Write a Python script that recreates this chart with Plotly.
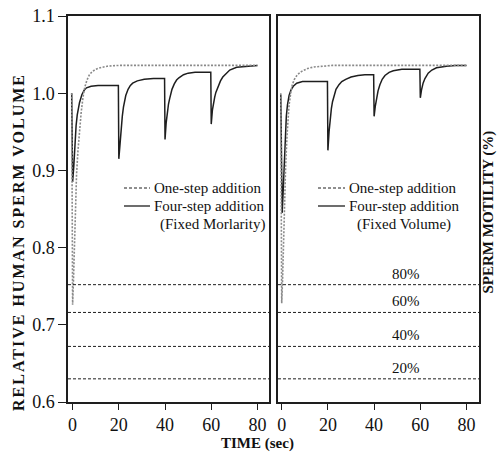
import plotly.graph_objects as go

# ---- data -------------------------------------------------------------
# One-step vs four-step addition, relative sperm volume over time (s)
t_one_mol = [-0.4, 0.0, 0.4, 0.8, 1.2, 1.7, 2.3, 3.0, 3.7, 4.5, 5.3, 6.2, 7.3, 8.5, 10, 12, 15, 20, 80]
v_one_mol = [1.000, 0.726, 0.760, 0.810, 0.855, 0.895, 0.925, 0.952, 0.975, 0.995, 1.008, 1.017,
             1.024, 1.028, 1.031, 1.033, 1.035, 1.036, 1.036]

t_four_mol = [-0.4, 0.0, 0.5, 1.0, 1.5, 2.0, 3.0, 4.0, 5.0, 6.0, 8.0, 11.0, 19.8,
              20.0, 20.5, 21.0, 21.5, 22.0, 22.5, 23.0, 24.0, 25.0, 26.0, 28.0, 31.0, 35.0, 39.8,
              40.0, 40.5, 41.0, 41.5, 42.0, 42.5, 43.0, 44.0, 45.0, 46.0, 48.0, 50.0, 53.0, 59.8,
              60.0, 60.5, 61.0, 61.5, 62.0, 63.0, 64.0, 65.0, 66.5, 68.0, 71.0, 75.0, 80.0]
v_four_mol = [1.000, 0.885, 0.905, 0.935, 0.958, 0.972, 0.988, 0.998, 1.004, 1.007, 1.009, 1.010, 1.010,
              0.915, 0.938, 0.955, 0.970, 0.982, 0.991, 0.997, 1.005, 1.010, 1.013, 1.016, 1.018, 1.019, 1.019,
              0.940, 0.962, 0.976, 0.986, 0.993, 0.999, 1.005, 1.012, 1.017, 1.020, 1.024, 1.026, 1.027, 1.027,
              0.960, 0.978, 0.988, 0.995, 1.001, 1.010, 1.016, 1.021, 1.026, 1.030, 1.0335, 1.035, 1.036]

t_one_vol = [-0.4, 0.0, 0.4, 0.8, 1.2, 1.7, 2.3, 3.2, 4.0, 4.6, 5.5, 6.8, 8.5, 11.2, 14, 17, 22, 80]
v_one_vol = [1.000, 0.728, 0.760, 0.810, 0.860, 0.905, 0.945, 0.985, 1.002, 1.011, 1.018, 1.024,
             1.028, 1.032, 1.034, 1.035, 1.036, 1.036]

t_four_vol = [-0.4, 0.2, 0.6, 1.0, 1.5, 2.0, 2.5, 3.2, 4.0, 5.0, 6.5, 9.0, 19.8,
              20.0, 20.5, 21.0, 21.5, 22.0, 22.6, 23.5, 24.8, 26.0, 27.7, 30.0, 33.0, 36.0, 39.8,
              40.0, 40.5, 41.0, 41.7, 42.5, 43.5, 44.7, 46.5, 48.3, 52.0, 59.8,
              60.0, 60.5, 61.2, 62.0, 63.4, 65.0, 67.0, 71.3, 75.0, 80.0]
v_four_vol = [0.998, 0.845, 0.870, 0.905, 0.945, 0.970, 0.985, 0.997, 1.004, 1.009, 1.013, 1.015, 1.015,
              0.926, 0.950, 0.968, 0.980, 0.989, 0.997, 1.005, 1.011, 1.015, 1.018, 1.021, 1.023, 1.024, 1.024,
              0.970, 0.983, 0.993, 1.003, 1.011, 1.018, 1.023, 1.027, 1.029, 1.031, 1.031,
              0.994, 1.004, 1.013, 1.019, 1.026, 1.030, 1.033, 1.035, 1.036, 1.036]

# Volume thresholds for sperm motility levels
motility_labels = ["80%", "60%", "40%", "20%"]
motility_volume = [0.752, 0.716, 0.672, 0.630]

x_ticks = [0, 20, 40, 60, 80]
y_ticks = [0.6, 0.7, 0.8, 0.9, 1.0, 1.1]
y_ticktext = ["0.6", "0.7", "0.8", "0.9", "1.0", "1.1"]

legend_one = "One-step addition"
legend_four = "Four-step addition"
panel_notes = ["(Fixed Morlarity)", "(Fixed Volume)"]

# ---- figure -----------------------------------------------------------
W, H = 497, 456
SERIF = "Liberation Serif"
DARK = "#1e1e1e"
GRAY = "#8a8a8a"


def px(xp):
    return xp / W


def py(yp):
    return 1 - yp / H


fig = go.Figure()

panels = [("x", "y", t_one_mol, v_one_mol, t_four_mol, v_four_mol),
          ("x2", "y2", t_one_vol, v_one_vol, t_four_vol, v_four_vol)]
for xa, ya, t1, v1, t4, v4 in panels:
    fig.add_trace(go.Scatter(x=t4, y=v4, mode="lines", xaxis=xa, yaxis=ya,
                             line=dict(color=DARK, width=1.5),
                             showlegend=False, hoverinfo="skip"))
    fig.add_trace(go.Scatter(x=t1, y=v1, mode="lines", xaxis=xa, yaxis=ya,
                             line=dict(color=GRAY, width=1.6, dash="2px,1.5px"),
                             showlegend=False, hoverinfo="skip"))

# dashed motility threshold lines in both panels
for v in motility_volume:
    for xr, yr in (("x domain", "y"), ("x2 domain", "y2")):
        fig.add_shape(type="line", xref=xr, yref=yr, x0=0, x1=1, y0=v, y1=v,
                      line=dict(color=DARK, width=1, dash="3px,2px"), layer="above")

# motility labels in the right panel
for lab, v in zip(motility_labels, motility_volume):
    fig.add_annotation(x=54, y=v, xref="x2", yref="y2", text=lab, showarrow=False,
                       yanchor="bottom", yshift=1, font=dict(family=SERIF, size=15, color="#111"))

axis_common = dict(showline=True, linecolor=DARK, linewidth=1.5, mirror=True,
                   showgrid=False, zeroline=False, ticks="outside", tickcolor=DARK,
                   automargin=False,
                   tickfont=dict(family=SERIF, size=18, color="#111"))

fig.update_layout(
    width=W, height=H,
    margin=dict(l=0, r=0, t=0, b=0, pad=0, autoexpand=False),
    paper_bgcolor="white", plot_bgcolor="white",
    xaxis=dict(domain=[px(68), px(269)], range=[-2, 85], tickvals=x_ticks,
               ticklen=6, tickwidth=1, ticklabelstandoff=0, **axis_common),
    xaxis2=dict(domain=[px(278), px(479)], range=[-1.6, 85.4], tickvals=x_ticks,
                ticklen=6, tickwidth=1, ticklabelstandoff=0, anchor="y2", **axis_common),
    yaxis=dict(domain=[py(402), py(16)], range=[0.6, 1.1], tickvals=y_ticks,
               ticktext=y_ticktext, ticklen=8, tickwidth=1, **axis_common),
    yaxis2=dict(domain=[py(402), py(16)], range=[0.6, 1.1], anchor="x2",
                showline=True, linecolor=DARK, linewidth=1.5, mirror=True, automargin=False,
                showgrid=False, zeroline=False, ticks="", showticklabels=False),
)

# in-panel legends
legend_pos = [(124, 150, 152, 158, panel_notes[0]), (318, 345, 347, 355, panel_notes[1])]
rows = [188, 206, 224]
for x0, x1, xt, xn, note in legend_pos:
    fig.add_shape(type="line", xref="paper", yref="paper", x0=px(x0), x1=px(x1),
                  y0=py(rows[0]), y1=py(rows[0]),
                  line=dict(color=DARK, width=1, dash="3px,2px"))
    fig.add_shape(type="line", xref="paper", yref="paper", x0=px(x0), x1=px(x1),
                  y0=py(rows[1]), y1=py(rows[1]),
                  line=dict(color=DARK, width=1.3))
    for txt, xx, yy in ((legend_one, xt, rows[0]), (legend_four, xt, rows[1]), (note, xn, rows[2])):
        fig.add_annotation(x=px(xx), y=py(yy), xref="paper", yref="paper", text=txt,
                           showarrow=False, xanchor="left", yanchor="middle",
                           font=dict(family=SERIF, size=15, color="#111"))

# axis titles
fig.add_annotation(x=px(18), y=py(242), xref="paper", yref="paper",
                   text='<span style="letter-spacing:2px"><b>RELATIVE HUMAN SPERM VOLUME</b></span>',
                   textangle=-90, showarrow=False, xanchor="center", yanchor="middle",
                   font=dict(family=SERIF, size=16, color="#111"))
fig.add_annotation(x=px(487.5), y=py(212), xref="paper", yref="paper",
                   text="<b>SPERM MOTILITY (%)</b>",
                   textangle=-90, showarrow=False, xanchor="center", yanchor="middle",
                   font=dict(family=SERIF, size=15, color="#111"))
fig.add_annotation(x=px(257), y=py(443), xref="paper", yref="paper",
                   text="<b>TIME (sec)</b>", showarrow=False, xanchor="center", yanchor="middle",
                   font=dict(family=SERIF, size=15, color="#111"))

fig.write_html("out.html")
